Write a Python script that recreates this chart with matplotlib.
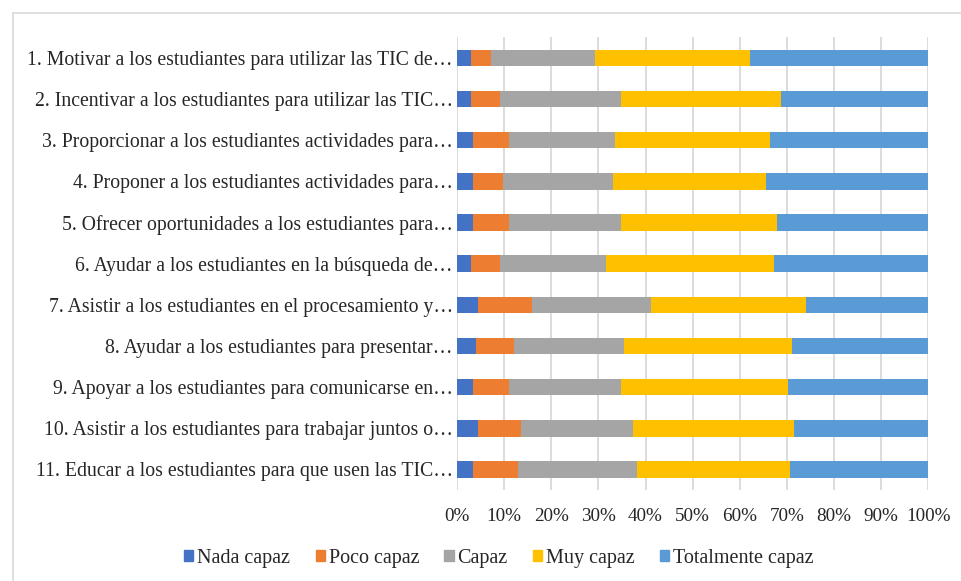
import matplotlib
matplotlib.use("Agg")
import matplotlib.pyplot as plt
from matplotlib.patches import Rectangle
from matplotlib.lines import Line2D
import numpy as np

plt.rcParams['font.family'] = ['Liberation Serif', 'DejaVu Serif']

# items (top to bottom as shown)
labels = [
    "1. Motivar a los estudiantes para utilizar las TIC de…",
    "2. Incentivar a los estudiantes para utilizar las TIC…",
    "3. Proporcionar a los estudiantes actividades para…",
    "4. Proponer a los estudiantes actividades para…",
    "5. Ofrecer oportunidades a los estudiantes para…",
    "6. Ayudar a los estudiantes en la búsqueda de…",
    "7. Asistir a los estudiantes en el procesamiento y…",
    "8. Ayudar a los estudiantes para presentar…",
    "9. Apoyar a los estudiantes para comunicarse en…",
    "10. Asistir a los estudiantes para trabajar juntos o…",
    "11. Educar a los estudiantes para que usen las TIC…",
]

series_names = ["Nada capaz", "Poco capaz", "Capaz", "Muy capaz", "Totalmente capaz"]
colors = ["#4472C4", "#ED7D31", "#A5A5A5", "#FFC000", "#5B9BD5"]

nada = [3.0, 3.0, 3.5, 3.5, 3.5, 3.0, 4.5, 4.0, 3.5, 4.5, 3.5]
poco = [4.3, 6.2, 7.5, 6.3, 7.5, 6.2, 11.4, 8.1, 7.5, 9.0, 9.5]
capaz = [22.0, 25.7, 22.5, 23.2, 23.9, 22.4, 25.3, 23.3, 23.9, 23.8, 25.2]
muy = [32.8, 33.8, 32.9, 32.5, 32.9, 35.7, 32.9, 35.7, 35.3, 34.3, 32.5]
total = [37.9, 31.3, 33.6, 34.5, 32.2, 32.7, 25.9, 28.9, 29.8, 28.4, 29.3]

data = np.array([nada, poco, capaz, muy, total])
data = data / data.sum(axis=0) * 100

W, H = 961, 581
fig = plt.figure(figsize=(W / 100, H / 100), dpi=100)
ax = fig.add_axes([457 / W, 1 - 490 / H, (928.3 - 457) / W, (490 - 37.4) / H])

y = np.arange(len(labels))
left = np.zeros(len(labels))
for vals, name, c in zip(data, series_names, colors):
    ax.barh(y, vals, left=left, height=0.4, color=c, label=name, zorder=3)
    left += vals

ax.set_xlim(0, 100)
ax.set_ylim(len(labels) - 0.5, -0.5)
ax.set_yticks(y)
ax.set_yticklabels(labels, fontsize=14.2, color="#262626")
ax.set_xticks(np.arange(0, 101, 10))
ax.set_xticklabels([f"{v}%" for v in range(0, 101, 10)], fontsize=13.8, color="#262626")
ax.tick_params(length=0)
ax.tick_params(axis='y', pad=3)
ax.tick_params(axis='x', pad=13)
ax.grid(axis='x', color="#D9D9D9", linewidth=1.3, zorder=0)
for s in ax.spines.values():
    s.set_visible(False)

# chart frame (only top/left visible in the crop)
fig.add_artist(Line2D([12.5 / W, 12.5 / W], [0, 1 - 13 / H], transform=fig.transFigure,
                      color="#D9D9D9", linewidth=1.2))
fig.add_artist(Line2D([12.5 / W, 1], [1 - 13 / H, 1 - 13 / H], transform=fig.transFigure,
                      color="#D9D9D9", linewidth=1.2))

handles = [Rectangle((0, 0), 1, 1, color=c) for c in colors]
fig.legend(handles, series_names, loc="center", bbox_to_anchor=(499 / W, 1 - 558 / H),
           ncol=5, frameon=False, fontsize=14.5, handlelength=0.45, handleheight=0.45,
           handletextpad=0.2, columnspacing=1.25, labelcolor="#262626")

fig.savefig("out.png", dpi=100)
